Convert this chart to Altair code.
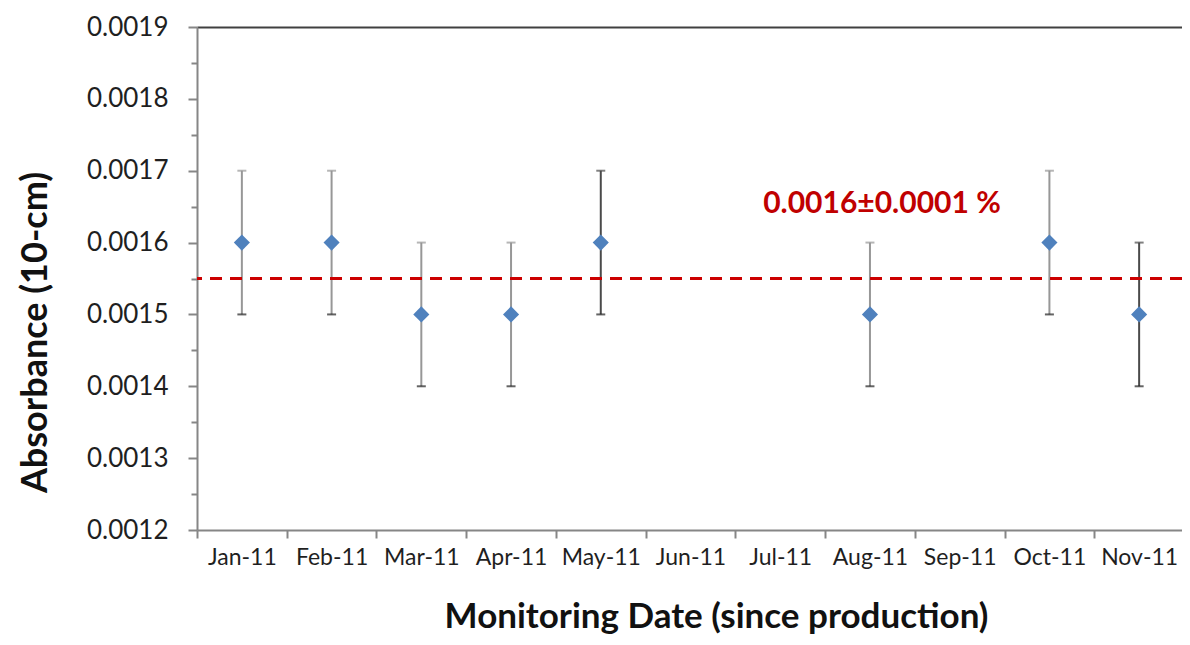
import altair as alt
import pandas as pd

# ---- data ----
months = ["Jan-11", "Feb-11", "Mar-11", "Apr-11", "May-11", "Jun-11",
          "Jul-11", "Aug-11", "Sep-11", "Oct-11", "Nov-11"]
obs_months = ["Jan-11", "Feb-11", "Mar-11", "Apr-11", "May-11",
              "Aug-11", "Oct-11", "Nov-11"]
absorbance = [0.0016, 0.0016, 0.0015, 0.0015, 0.0016, 0.0015, 0.0016, 0.0015]
uncertainty = [0.0001, 0.0001, 0.0001, 0.0001, 0.0001, 0.0001, 0.0001, 0.0001]
bar_shade = ["light", "light", "light", "light", "dark", "light", "light", "dark"]
mean_value = [0.00155]
y_major = [0.0012, 0.0013, 0.0014, 0.0015, 0.0016, 0.0017, 0.0018, 0.0019]
y_minor = [0.00125, 0.00135, 0.00145, 0.00155, 0.00165, 0.00175, 0.00185]
note_text = ["0.0016\u00b10.0001 %"]
note_month = ["Aug-11"]
note_value = [0.001654]

FONT = "Lato"
AXIS_GREY = "#868686"
TEXT = "#1f1f1f"

df = pd.DataFrame({"month": obs_months, "value": absorbance,
                   "err": uncertainty, "shade": bar_shade})
mean_df = pd.DataFrame({"mean": mean_value})
note_df = pd.DataFrame({"month": note_month, "value": note_value, "text": note_text})

xscale = alt.Scale(domain=months, paddingInner=0, paddingOuter=0, range=[0, 987])
yscale = alt.Scale(domain=[0.0012, 0.0019], nice=False, zero=False)
shade = alt.Color("shade:N", scale=alt.Scale(domain=["light", "dark"],
                                            range=["#979797", "#4a4a4a"]), legend=None)

base = alt.Chart(df).transform_calculate(
    lo="datum.value - datum.err", hi="datum.value + datum.err")

bottom_axis = alt.Axis(
    orient="bottom", tickBand="extent", grid=False,
    domainColor=AXIS_GREY, domainWidth=2, tickColor=AXIS_GREY, tickWidth=2, tickSize=8,
    labelFont=FONT, labelFontSize=23, labelColor=TEXT, labelPadding=8, labelAngle=0,
    labelOverlap=False,
    title="Monitoring Date (since production)", titleFont=FONT, titleFontSize=35,
    titleFontWeight="bold", titleColor="#111111", titleX=519, titleY=86,
    titleAlign="center", titleBaseline="middle")

left_axis = alt.Axis(
    orient="left", values=y_major, format=".4f", grid=False,
    domainColor=AXIS_GREY, domainWidth=2, tickColor=AXIS_GREY, tickWidth=2, tickSize=9,
    labelFont=FONT, labelFontSize=26, labelColor=TEXT, labelPadding=20,
    title="Absorbance (10-cm)", titleFont=FONT, titleFontSize=36, titleFontWeight="bold",
    titleColor="#111111", titleAngle=270, titleX=-162, titleY=305,
    titleAlign="center", titleBaseline="middle")

minor_axis = alt.Axis(orient="left", values=y_minor, labels=False, domain=False,
                      grid=False, tickColor=AXIS_GREY, tickWidth=2, tickSize=6, title=None)

top_axis = alt.Axis(orient="top", domain=True, domainColor="#404040", domainWidth=2,
                    ticks=False, labels=False, grid=False, title=None)

bars = base.mark_rule(strokeWidth=2).encode(
    x=alt.X("month:N", sort=months, scale=xscale, axis=bottom_axis),
    y=alt.Y("lo:Q", scale=yscale, axis=left_axis),
    y2="hi:Q",
    color=shade,
)

top_caps = base.mark_tick(size=9, thickness=2).encode(
    x=alt.X("month:N", sort=months, scale=xscale, axis=top_axis),
    y=alt.Y("hi:Q", scale=yscale, axis=minor_axis),
    color=shade,
)

bottom_caps = base.mark_tick(size=9, thickness=2, color="#222222").encode(
    x=alt.X("month:N", sort=months, scale=xscale, axis=None),
    y=alt.Y("lo:Q", scale=yscale, axis=None),
)

mean_line = alt.Chart(mean_df).mark_rule(
    color="#CC0000", strokeWidth=3, strokeDash=[12, 8]).encode(
    y=alt.Y("mean:Q", scale=yscale, axis=None))

points = base.mark_point(shape="diamond", filled=True, size=260,
                         color="#4F81BD", opacity=1).encode(
    x=alt.X("month:N", sort=months, scale=xscale, axis=None),
    y=alt.Y("value:Q", scale=yscale, axis=None),
)

note = alt.Chart(note_df).mark_text(
    font=FONT, fontSize=30, fontWeight="bold", color="#C00000", dx=12,
    align="center", baseline="middle").encode(
    x=alt.X("month:N", sort=months, scale=xscale, axis=None),
    y=alt.Y("value:Q", scale=yscale, axis=None),
    text="text:N")

chart = alt.layer(bars, top_caps, bottom_caps, mean_line, points, note).resolve_scale(
    x="shared", y="shared", color="shared"
).resolve_axis(
    x="independent", y="independent"
).properties(
    width=985, height=503,
    padding={"left": 189, "top": 19, "right": 0, "bottom": 107},
    autosize=alt.AutoSizeParams(type="none"),
    background="white",
).configure_view(stroke=None)

chart.save("out.html", embed_options={"renderer": "svg", "actions": False})
